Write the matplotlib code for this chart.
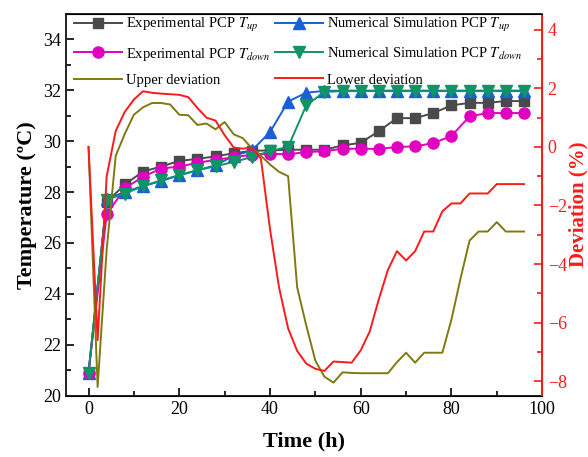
import numpy as np
import matplotlib
matplotlib.use("Agg")
import matplotlib.pyplot as plt
from matplotlib.ticker import MultipleLocator

plt.rcParams["font.family"] = ["Liberation Serif", "DejaVu Serif"]
plt.rcParams["mathtext.fontset"] = "stix"

# Temperature data, sampled every 4 h
t_temp = [0, 4, 8, 12, 16, 20, 24, 28, 32, 36, 40, 44, 48,
          52, 56, 60, 64, 68, 72, 76, 80, 84, 88, 92, 96]
exp_up = [20.9, 27.6, 28.3, 28.8, 29.0, 29.22, 29.3, 29.4, 29.52, 29.62, 29.63, 29.66, 29.66,
          29.66, 29.83, 29.93, 30.39, 30.9, 30.9, 31.1, 31.4, 31.5, 31.5, 31.57, 31.57]
num_up = [20.9, 27.72, 28.0, 28.23, 28.43, 28.66, 28.85, 29.05, 29.42, 29.63, 30.35, 31.55, 31.9,
          31.97, 31.98, 31.98, 31.98, 31.98, 31.98, 31.98, 31.98, 31.98, 31.98, 31.98, 31.98]
exp_down = [20.9, 27.12, 28.15, 28.6, 28.92, 29.0, 29.14, 29.27, 29.36, 29.47, 29.5, 29.48, 29.57,
            29.6, 29.7, 29.7, 29.69, 29.77, 29.79, 29.92, 30.2, 30.97, 31.1, 31.1, 31.1]
num_down = [20.9, 27.7, 27.94, 28.23, 28.46, 28.66, 28.86, 29.01, 29.18, 29.37, 29.61, 29.77, 31.4,
            31.93, 31.96, 31.96, 31.96, 31.96, 31.96, 31.96, 31.96, 31.96, 31.96, 31.96, 31.96]

# Deviation data, sampled every 2 h
t_dev = list(range(0, 98, 2))
upper_dev = [0.0, -8.2, -3.5, -0.3, 0.45, 1.1, 1.35, 1.5, 1.5, 1.45, 1.1, 1.08, 0.75,
             0.8, 0.6, 0.85, 0.43, 0.3, -0.05, -0.3, -0.6, -0.85, -1.0, -4.8, -6.1,
             -7.3, -7.85, -8.05, -7.7, -7.72, -7.73, -7.73, -7.73, -7.73, -7.35, -7.03, -7.37,
             -7.03, -7.03, -7.03, -5.9, -4.5, -3.2, -2.89, -2.89, -2.57, -2.89, -2.89, -2.89]
lower_dev = [0.0, -6.6, -1.0, 0.55, 1.2, 1.62, 1.9, 1.85, 1.82, 1.8, 1.78, 1.7, 1.33,
             1.0, 0.9, 0.4, -0.02, -0.06, -0.02, -0.4, -2.8, -4.8, -6.2, -6.97, -7.4,
             -7.58, -7.65, -7.33, -7.35, -7.37, -6.95, -6.3, -5.2, -4.2, -3.56, -3.88, -3.56,
             -2.89, -2.89, -2.2, -1.93, -1.93, -1.59, -1.59, -1.59, -1.27, -1.27, -1.27, -1.27]

fig = plt.figure(figsize=(5.88, 4.57), dpi=100)
ax = fig.add_axes([0.112, 0.134, 0.81, 0.836])
ax2 = ax.twinx()

l1, = ax.plot(t_temp, exp_up, color="#4a4a4a", marker="s", ms=7, lw=1.4,
              label="Experimental PCP $\\mathit{T}_{up}$")
l2, = ax.plot(t_temp, num_up, color="#1a5fd8", marker="^", ms=8, lw=1.4,
              label="Numerical Simulation PCP $\\mathit{T}_{up}$")
l3, = ax.plot(t_temp, exp_down, color="#e000c0", marker="o", ms=8, lw=1.4,
              label="Experimental PCP $\\mathit{T}_{down}$")
l4, = ax.plot(t_temp, num_down, color="#0e9466", marker="v", ms=8, lw=1.4,
              label="Numerical Simulation PCP $\\mathit{T}_{down}$")

l5, = ax2.plot(t_dev, upper_dev, color="#7f7a10", lw=1.4, label="Upper deviation")
l6, = ax2.plot(t_dev, lower_dev, color="#ff1a1a", lw=1.4, label="Lower deviation")

ax.set_xlim(-5, 100)
ax.set_ylim(20, 35)
ax2.set_ylim(-8.5, 4.55)

ax.xaxis.set_major_locator(MultipleLocator(20))
ax.xaxis.set_minor_locator(MultipleLocator(10))
ax.yaxis.set_major_locator(MultipleLocator(2))
ax.yaxis.set_minor_locator(MultipleLocator(1))
ax2.yaxis.set_major_locator(MultipleLocator(2))
ax2.yaxis.set_minor_locator(MultipleLocator(1))

ax.tick_params(which="both", direction="in", labelsize=13, width=1.2)
ax.tick_params(which="major", length=6)
ax.tick_params(which="minor", length=3.5)
ax.tick_params(axis="x", which="both", top=False)
ax2.tick_params(which="both", direction="in", labelsize=13, colors="#ff1a1a", width=1.2, pad=4)
ax2.tick_params(which="major", length=6)
ax2.tick_params(which="minor", length=3.5)

for s in ["left", "bottom", "top"]:
    ax.spines[s].set_linewidth(1.4)
    ax.spines[s].set_color("#222222")
ax2.spines["right"].set_color("#ff1a1a")
ax2.spines["right"].set_linewidth(1.4)
ax2.spines["left"].set_visible(False)

ax.set_xlabel("Time (h)", fontsize=16, fontweight="bold", labelpad=10)
ax.set_ylabel("Temperature (ºC)", fontsize=16, fontweight="bold", labelpad=4)
ax2.set_ylabel("Deviation (%)", fontsize=15, fontweight="bold", color="#ff1a1a", labelpad=1)

handles = [l1, l3, l5, l2, l4, l6]
ax2.legend(handles=handles, labels=[h.get_label() for h in handles], ncol=2,
           loc="upper left", bbox_to_anchor=(0.012, 1.0), frameon=False,
           fontsize=10.5, handlelength=3.3, columnspacing=0.3, handletextpad=0.3,
           labelspacing=0.8, borderaxespad=0.0, borderpad=0.15)

fig.savefig("out.png", dpi=100)
